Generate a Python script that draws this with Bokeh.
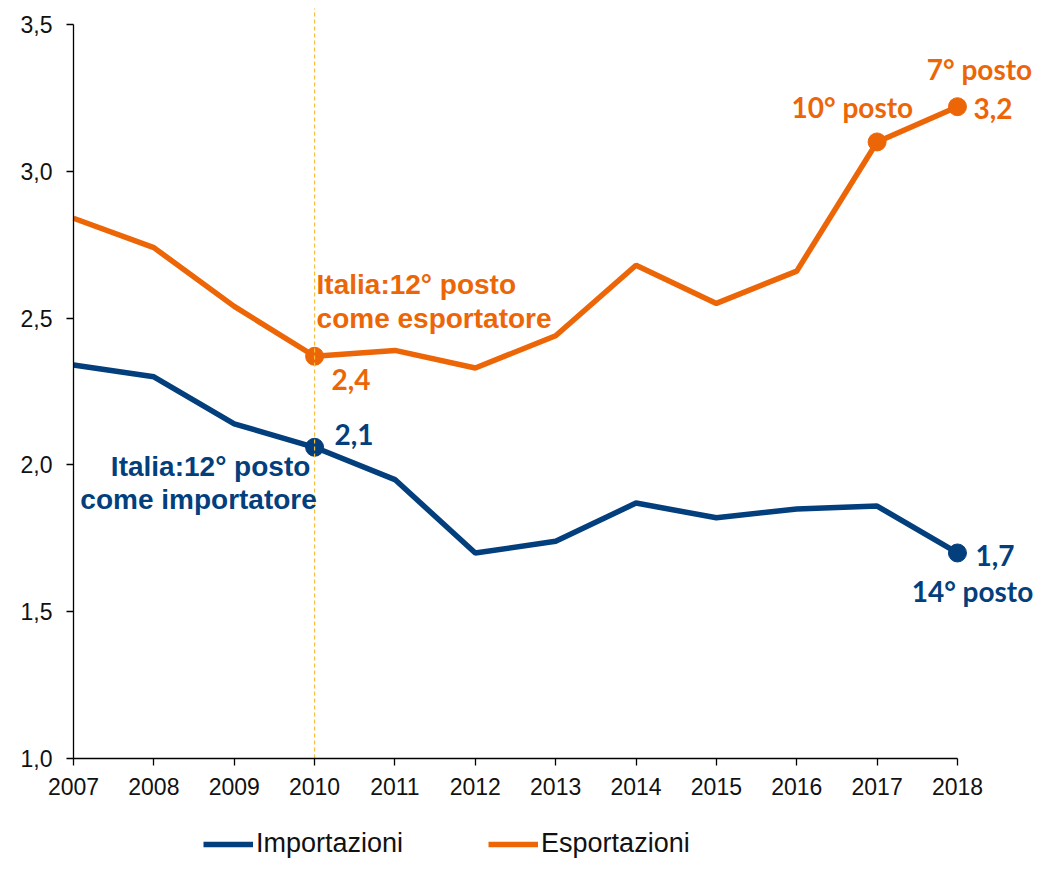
from bokeh.plotting import figure
from bokeh.models import Range1d, FixedTicker, Label, Legend, LegendItem, CustomJSTickFormatter
from bokeh.embed import file_html
from bokeh.resources import INLINE

# ---- data ----
years = [2007, 2008, 2009, 2010, 2011, 2012, 2013, 2014, 2015, 2016, 2017, 2018]
importazioni = [2.34, 2.30, 2.14, 2.06, 1.95, 1.70, 1.74, 1.87, 1.82, 1.85, 1.86, 1.70]
esportazioni = [2.84, 2.74, 2.54, 2.37, 2.39, 2.33, 2.44, 2.68, 2.55, 2.66, 3.10, 3.22]
y_ticks = [1.0, 1.5, 2.0, 2.5, 3.0, 3.5]
series_names = ["Importazioni", "Esportazioni"]
exp_highlight_years = [2010, 2017, 2018]
imp_highlight_years = [2010, 2018]
marker_year = 2010
exp_2010_label = ["Italia:12° posto", "come esportatore"]
imp_2010_label = ["Italia:12° posto", "come importatore"]
exp_rank_2017 = "10° posto"
exp_rank_2018 = "7° posto"
imp_rank_2018 = "14° posto"
value_labels_exp = ["2,4", "3,2"]
value_labels_imp = ["2,1", "1,7"]

BLUE = "#033F7D"
ORANGE = "#EC6608"
GOLD = "#F6BE3C"
AXIS_FONT = "Liberation Sans"
NUM_FONT = "Lato"

W, H = 1034, 859
AXIS_X = 73             # pixel column of the y axis (2007)
TOP = 24                # pixel row of 3.5
AXIS_Y = 758            # pixel row of the x axis (1.0)
px_per_year = 80.36
px_per_unit = (AXIS_Y - TOP) / (y_ticks[-1] - y_ticks[0])
# the frame fills the whole figure; the axes are placed with fixed_location and bounds,
# so no label or annotation gets clipped
x_start = years[0] - AXIS_X / px_per_year
x_end = years[0] + (W - AXIS_X) / px_per_year
y_start = y_ticks[0] - (H - AXIS_Y) / px_per_unit
y_end = y_ticks[-1] + TOP / px_per_unit

p = figure(width=W, height=H, output_backend="svg", toolbar_location=None,
           x_range=Range1d(x_start, x_end), y_range=Range1d(y_start, y_end),
           min_border=0)
p.grid.visible = False
p.outline_line_color = None
p.background_fill_color = "white"
p.border_fill_color = "white"

p.xaxis.ticker = FixedTicker(ticks=years)
p.xaxis.bounds = (years[0], years[-1])
p.xaxis.fixed_location = y_ticks[0]
p.yaxis.ticker = FixedTicker(ticks=y_ticks)
p.yaxis.bounds = (y_ticks[0], y_ticks[-1])
p.yaxis.fixed_location = years[0]
p.yaxis.formatter = CustomJSTickFormatter(code="return tick.toFixed(1).replace('.', ',');")
for ax in (p.xaxis, p.yaxis):
    ax.axis_line_color = "#000000"
    ax.axis_line_width = 1.3
    ax.major_tick_line_color = "#000000"
    ax.major_tick_line_width = 1.3
    ax.major_tick_in = 0
    ax.major_tick_out = 7
    ax.minor_tick_line_color = None
    ax.major_label_text_font = AXIS_FONT
    ax.major_label_text_font_size = "23px"
    ax.major_label_text_color = "#111111"
p.xaxis.major_label_standoff = 12
p.yaxis.major_label_standoff = 14

l_imp = p.line(years, importazioni, line_width=5.5, line_color=BLUE)
l_exp = p.line(years, esportazioni, line_width=5.5, line_color=ORANGE)

p.scatter(exp_highlight_years, [esportazioni[years.index(y)] for y in exp_highlight_years],
          size=18, fill_color=ORANGE, line_color=ORANGE)
p.scatter(imp_highlight_years, [importazioni[years.index(y)] for y in imp_highlight_years],
          size=18, fill_color=BLUE, line_color=BLUE)

# dashed reference line at 2010, from the x axis up to just under the top of the figure
p.segment(x0=[marker_year], y0=[y_ticks[0]], x1=[marker_year], y1=[y_ticks[-1] + 16 / px_per_unit],
          line_color=GOLD, line_dash="4 3", line_width=1.2)

def lab(x, y, text, color, xo, yo, align="left", font=AXIS_FONT, size="28px"):
    p.add_layout(Label(x=x, y=y, text=text, x_offset=xo, y_offset=yo, text_align=align,
                       text_baseline="middle", text_color=color, text_font=font,
                       text_font_style="bold", text_font_size=size))

i10 = years.index(2010)
i17 = years.index(2017)
i18 = years.index(2018)
# esportazioni 2010
lab(2010, esportazioni[i10], exp_2010_label[0], ORANGE, 2, 72)
lab(2010, esportazioni[i10], exp_2010_label[1], ORANGE, 2, 38)
lab(2010, esportazioni[i10], value_labels_exp[0], ORANGE, 17, -23, font=NUM_FONT)
# importazioni 2010
lab(2010, importazioni[i10], imp_2010_label[0], BLUE, -104, -19, align="center")
lab(2010, importazioni[i10], imp_2010_label[1], BLUE, -116, -52, align="center")
lab(2010, importazioni[i10], value_labels_imp[0], BLUE, 20, 13, font=NUM_FONT)
# esportazioni 2017/2018
lab(2017, esportazioni[i17], exp_rank_2017, ORANGE, 36, 35, align="right", font=NUM_FONT)
lab(2018, esportazioni[i18], value_labels_exp[1], ORANGE, 16, -2, font=NUM_FONT)
lab(2018, esportazioni[i18], exp_rank_2018, ORANGE, 22, 38, align="center", font=NUM_FONT)
# importazioni 2018
lab(2018, importazioni[i18], value_labels_imp[1], BLUE, 18, -3, font=NUM_FONT)
lab(2018, importazioni[i18], imp_rank_2018, BLUE, 15, -38, align="center", font=NUM_FONT)

legend = Legend(items=[LegendItem(label=series_names[0], renderers=[l_imp]),
                       LegendItem(label=series_names[1], renderers=[l_exp])],
                orientation="horizontal", location=(203, 0), padding=0, margin=0,
                spacing=85, glyph_width=50, glyph_height=20, label_standoff=3,
                label_text_font=AXIS_FONT, label_text_font_size="27px", label_text_color="#111111",
                border_line_color=None, background_fill_alpha=0)
p.add_layout(legend)

open("out.html", "w").write(file_html(p, INLINE))
